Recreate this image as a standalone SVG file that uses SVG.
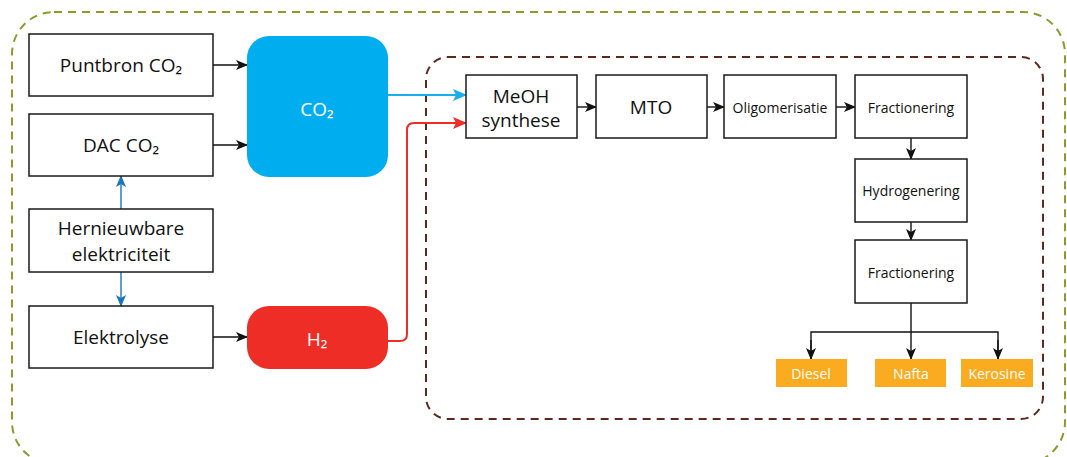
<svg xmlns="http://www.w3.org/2000/svg" width="1067" height="457" viewBox="0 0 1067 457">
<defs>
<style>
.box{fill:#fff;stroke:#1a1a1a;stroke-width:1.5}
.t{font-family:"Open Sans","Noto Sans",sans-serif;fill:#111;text-anchor:middle;dominant-baseline:central}
.big{font-size:19px}
.sm{font-size:14px}
.w{fill:#fff}
.out{fill:#fbab1f}
.k{stroke:#111;stroke-width:1.4;fill:none}
</style>
<marker id="ak" viewBox="0 0 12 10" refX="11" refY="5" markerWidth="12" markerHeight="10" markerUnits="userSpaceOnUse" orient="auto">
<path d="M0,0 L12,5 L0,10 L3,5 Z" fill="#111"/>
</marker>
<marker id="ab" viewBox="0 0 12 10" refX="11" refY="5" markerWidth="12" markerHeight="10" markerUnits="userSpaceOnUse" orient="auto">
<path d="M0,0 L12,5 L0,10 L3,5 Z" fill="#1b75bb"/>
</marker>
<marker id="ac" viewBox="0 0 14 12" refX="13" refY="6" markerWidth="14" markerHeight="12" markerUnits="userSpaceOnUse" orient="auto">
<path d="M0,0 L14,6 L0,12 L3,6 Z" fill="#1aaeea"/>
</marker>
<marker id="ar" viewBox="0 0 14 12" refX="13" refY="6" markerWidth="14" markerHeight="12" markerUnits="userSpaceOnUse" orient="auto">
<path d="M0,0 L14,6 L0,12 L3,6 Z" fill="#ee2d27"/>
</marker>
</defs>
<rect x="1" y="1" width="1065" height="455" fill="#fff"/>
<g id="frames">
<rect x="12" y="12" width="1053" height="452" rx="42" fill="none" stroke="#8c9c2c" stroke-width="2" stroke-dasharray="8,6"/>
<rect x="426" y="57" width="617" height="362" rx="22" fill="none" stroke="#5b2a1c" stroke-width="2" stroke-dasharray="8,6"/>
</g>
<g id="connectors">
<line class="k" x1="213" y1="65" x2="247" y2="65" marker-end="url(#ak)"/>
<line class="k" x1="213" y1="145" x2="247" y2="145" marker-end="url(#ak)"/>
<line class="k" x1="213" y1="337" x2="247" y2="337" marker-end="url(#ak)"/>
<line x1="121" y1="209" x2="121" y2="176" stroke="#1b75bb" stroke-width="1.4" marker-end="url(#ab)"/>
<line x1="121" y1="272" x2="121" y2="306" stroke="#1b75bb" stroke-width="1.4" marker-end="url(#ab)"/>
<line x1="388" y1="95" x2="466" y2="95" stroke="#1aaeea" stroke-width="2" marker-end="url(#ac)"/>
<path d="M388,341 L400,341 Q407,341 407,334 L407,130 Q407,123 414,123 L466,123" fill="none" stroke="#ee2d27" stroke-width="2" marker-end="url(#ar)"/>
<line class="k" x1="577" y1="107" x2="596" y2="107" marker-end="url(#ak)"/>
<line class="k" x1="707" y1="107" x2="724" y2="107" marker-end="url(#ak)"/>
<line class="k" x1="836" y1="107" x2="855" y2="107" marker-end="url(#ak)"/>
<line class="k" x1="911" y1="138" x2="911" y2="159" marker-end="url(#ak)"/>
<line class="k" x1="911" y1="222" x2="911" y2="240" marker-end="url(#ak)"/>
<line class="k" x1="911" y1="303" x2="911" y2="359" marker-end="url(#ak)"/>
<path class="k" d="M811,359 L811,332 L998,332 L998,359"/>
<line class="k" x1="811" y1="340" x2="811" y2="359" marker-end="url(#ak)"/>
<line class="k" x1="998" y1="340" x2="998" y2="359" marker-end="url(#ak)"/>
</g>
<g id="puntbron"><rect class="box" x="29" y="34" width="184" height="62"/><text class="t big" x="121" y="65">Puntbron CO₂</text></g>
<g id="dac"><rect class="box" x="29" y="114" width="184" height="62"/><text class="t big" x="121" y="145">DAC CO₂</text></g>
<g id="hernieuwbare"><rect class="box" x="29" y="209" width="184" height="63"/><text class="t big" x="121" y="228">Hernieuwbare</text><text class="t big" x="121" y="254">elektriciteit</text></g>
<g id="elektrolyse"><rect class="box" x="29" y="306" width="184" height="62"/><text class="t big" x="121" y="337">Elektrolyse</text></g>
<g id="co2"><rect x="247" y="36" width="141" height="141" rx="22" fill="#00aeef"/><text class="t big w" x="317" y="109">CO₂</text></g>
<g id="h2"><rect x="247" y="306" width="141" height="63" rx="22" fill="#ee2d27"/><text class="t big w" x="317" y="339">H₂</text></g>
<g id="meoh"><rect class="box" x="466" y="75" width="111" height="63"/><text class="t big" x="521" y="96">MeOH</text><text class="t big" x="521" y="120">synthese</text></g>
<g id="mto"><rect class="box" x="596" y="75" width="111" height="63"/><text class="t big" x="651" y="107">MTO</text></g>
<g id="oligo"><rect class="box" x="724" y="75" width="112" height="63"/><text class="t sm" x="780" y="107">Oligomerisatie</text></g>
<g id="frac1"><rect class="box" x="855" y="75" width="112" height="63"/><text class="t sm" x="911" y="107">Fractionering</text></g>
<g id="hydro"><rect class="box" x="855" y="159" width="112" height="63"/><text class="t sm" x="911" y="190">Hydrogenering</text></g>
<g id="frac2"><rect class="box" x="855" y="240" width="112" height="63"/><text class="t sm" x="911" y="272">Fractionering</text></g>
<g id="diesel"><rect class="out" x="776" y="359" width="71" height="28"/><text class="t sm w" x="811" y="373">Diesel</text></g>
<g id="nafta"><rect class="out" x="875" y="359" width="71" height="28"/><text class="t sm w" x="911" y="373">Nafta</text></g>
<g id="kerosine"><rect class="out" x="961" y="359" width="72" height="28"/><text class="t sm w" x="997" y="373">Kerosine</text></g>
</svg>
